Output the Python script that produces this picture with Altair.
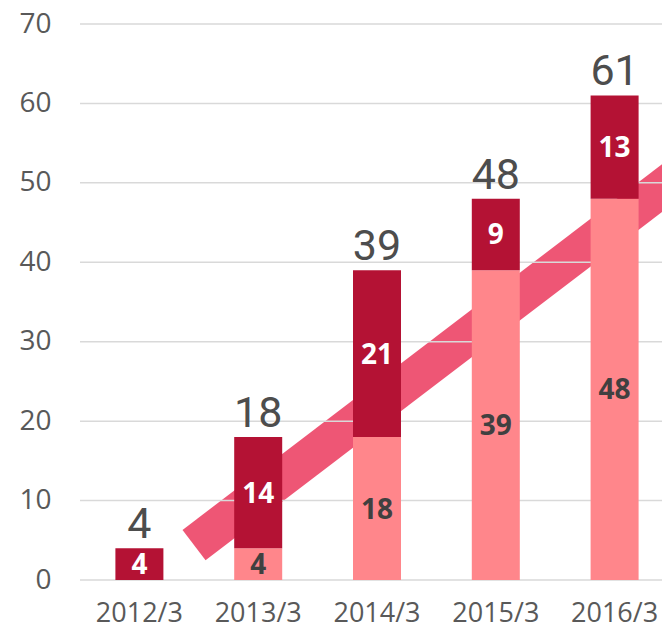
import altair as alt
import pandas as pd

categories = ["2012/3", "2013/3", "2014/3", "2015/3", "2016/3"]
lower = [0, 4, 18, 39, 48]
upper = [4, 14, 21, 9, 13]
totals = [4, 18, 39, 48, 61]
y_ticks = [0, 10, 20, 30, 40, 50, 60, 70]
# trend band (x in category units 0..5, y in data units)
trend_x = [0.96, 5.3]
trend_y = [4.4, 53.9]

DARK = "#B41234"
LIGHT = "#FF868B"
BAND = "#EE5675"
XRANGE = [0, 594]

rows = []
for c, lo, up in zip(categories, lower, upper):
    rows.append({"cat": c, "series": "lower", "y0": 0, "y1": lo, "v": lo})
    rows.append({"cat": c, "series": "upper", "y0": lo, "y1": lo + up, "v": up})
seg = pd.DataFrame(rows)
tot = pd.DataFrame({"cat": categories, "total": totals})
grid = pd.DataFrame({"t": y_ticks})
trend = pd.DataFrame({"x": trend_x, "y": trend_y})

yscale = alt.Scale(domain=[0, 70], nice=False)
yaxis = alt.Axis(values=y_ticks, grid=False, ticks=False, domain=False,
                 labelFont="Open Sans", labelFontSize=28, labelColor="#595959",
                 labelPadding=29)


def xs():
    return alt.Scale(domain=categories, paddingInner=0, paddingOuter=0, range=XRANGE)


band = alt.Chart(trend).mark_line(
    color=BAND, strokeWidth=38, strokeCap="butt"
).encode(
    x=alt.X("x:Q", scale=alt.Scale(domain=[0, 5], nice=False, zero=False, range=XRANGE), axis=None),
    y=alt.Y("y:Q", scale=yscale, axis=yaxis, title=None),
)

rules = alt.Chart(grid).mark_rule(color="#D9D9D9", strokeWidth=1.5).encode(
    y=alt.Y("t:Q", scale=yscale, axis=yaxis, title=None)
)

bars = alt.Chart(seg).mark_bar(size=48).encode(
    x=alt.X("cat:N", scale=xs(), sort=categories, title=None,
            axis=alt.Axis(labelAngle=0, ticks=False, domain=False, grid=False,
                          labelFont="Open Sans", labelFontSize=27, labelColor="#595959",
                          labelPadding=20)),
    y=alt.Y("y0:Q", scale=yscale, axis=yaxis, title=None),
    y2="y1:Q",
    color=alt.Color("series:N", scale=alt.Scale(domain=["lower", "upper"], range=[LIGHT, DARK]), legend=None),
)

seg_labels = alt.Chart(seg).transform_filter("datum.v > 0").transform_calculate(
    mid="(datum.y0 + datum.y1) / 2"
).mark_text(font="Open Sans", fontWeight="bold", fontSize=28, baseline="middle", dy=2).encode(
    x=alt.X("cat:N", scale=xs(), sort=categories, axis=None),
    y=alt.Y("mid:Q", scale=yscale, axis=yaxis, title=None),
    text="v:Q",
    color=alt.Color("series:N", scale=alt.Scale(domain=["lower", "upper"], range=["#404040", "#FFFFFF"]), legend=None),
)

tot_labels = alt.Chart(tot).mark_text(
    font="Liberation Sans Narrow, Arial Narrow, Roboto", fontSize=43,
    baseline="bottom", dy=-1, color="#4D4D4D"
).encode(
    x=alt.X("cat:N", scale=xs(), sort=categories, axis=None),
    y=alt.Y("total:Q", scale=yscale, axis=yaxis, title=None),
    text="total:Q",
)

chart = alt.layer(band, rules, bars, seg_labels, tot_labels).resolve_scale(
    x="independent", color="independent"
).properties(
    width=582, height=556,
    padding={"left": 72, "top": 16, "right": 0, "bottom": 48},
    autosize=alt.AutoSizeParams(type="none"),
).configure_view(stroke=None)

chart.save("out.html", embed_options={"renderer": "svg", "actions": False})
